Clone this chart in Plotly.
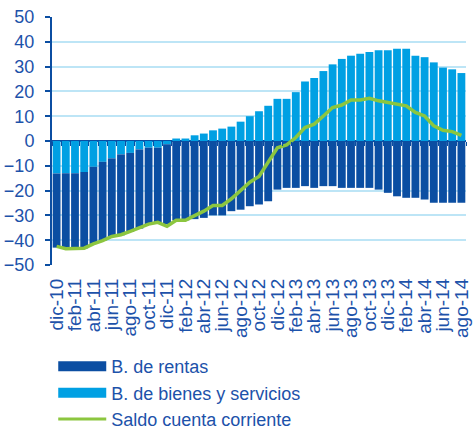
import plotly.graph_objects as go

months = ["dic-10", "ene-11", "feb-11", "mar-11", "abr-11", "may-11", "jun-11", "jul-11",
          "ago-11", "sep-11", "oct-11", "nov-11", "dic-11", "ene-12", "feb-12", "mar-12",
          "abr-12", "may-12", "jun-12", "jul-12", "ago-12", "sep-12", "oct-12", "nov-12",
          "dic-12", "ene-13", "feb-13", "mar-13", "abr-13", "may-13", "jun-13", "jul-13",
          "ago-13", "sep-13", "oct-13", "nov-13", "dic-13", "ene-14", "feb-14", "mar-14",
          "abr-14", "may-14", "jun-14", "jul-14", "ago-14"]

bienes_servicios = [-13.1, -13.0, -13.0, -12.5, -10.4, -8.4, -7.0, -5.4, -4.8, -3.4, -2.7, -2.7,
                    -1.3, 1.0, 1.0, 2.3, 3.0, 4.3, 5.0, 5.8, 7.8, 10.0, 12.0, 14.2, 17.0, 17.0,
                    19.7, 24.0, 25.4, 28.2, 30.9, 33.1, 34.4, 35.2, 35.9, 36.6, 36.6, 37.2, 37.2,
                    34.4, 33.8, 31.7, 29.6, 28.9, 27.4]

rentas = [-29.9, -30.5, -30.5, -30.8, -31.1, -31.8, -31.7, -32.6, -31.8, -31.9, -31.1, -30.3,
          -32.2, -32.0, -32.0, -31.5, -31.0, -30.0, -30.0, -28.3, -27.7, -26.3, -25.6, -24.3,
          -19.6, -18.9, -18.9, -18.2, -18.9, -18.2, -18.2, -18.9, -18.9, -18.9, -18.9, -19.6,
          -20.9, -22.3, -22.9, -22.9, -23.6, -24.9, -24.9, -24.9, -24.9]

saldo = [-42.5, -43.4, -43.3, -43.2, -41.5, -40.2, -38.5, -37.8, -36.4, -35.1, -33.5, -32.8,
         -34.4, -32.0, -32.0, -30.1, -28.3, -26.0, -26.0, -23.3, -20.0, -16.6, -14.3, -8.8,
         -2.7, -1.6, 1.4, 5.4, 6.8, 10.1, 13.5, 14.5, 16.5, 16.5, 17.2, 16.2, 15.5, 14.9,
         14.2, 11.5, 10.1, 6.1, 4.3, 3.8, 2.3]

y_ticks = [50, 40, 30, 20, 10, 0, -10, -20, -30, -40, -50]

C_DARK = "#0b4ea2"
C_LIGHT = "#00a0e3"
C_GREEN = "#8cc63f"
C_TEXT = "#1d52aa"
C_GRID = "#bde5f6"
FONT = "Liberation Sans, Arial, sans-serif"

fig = go.Figure()
fig.add_trace(go.Bar(x=months, y=bienes_servicios, name="B. de bienes y servicios",
                     marker=dict(color=C_LIGHT, line=dict(width=0)), showlegend=False))
fig.add_trace(go.Bar(x=months, y=rentas, name="B. de rentas",
                     marker=dict(color=C_DARK, line=dict(width=0)), showlegend=False))
fig.add_trace(go.Scatter(x=months, y=saldo, name="Saldo cuenta corriente", mode="lines",
                         line=dict(color=C_GREEN, width=3.5), showlegend=False))

# legend entries
fig.add_trace(go.Scatter(x=[None], y=[None], mode="lines", name="B. de rentas",
                         line=dict(color=C_DARK, width=11), legendgroup="a"))
fig.add_trace(go.Scatter(x=[None], y=[None], mode="lines", name="B. de bienes y servicios",
                         line=dict(color=C_LIGHT, width=11), legendgroup="b"))
fig.add_trace(go.Scatter(x=[None], y=[None], mode="lines", name="Saldo cuenta corriente",
                         line=dict(color=C_GREEN, width=3), legendgroup="c"))

fig.update_layout(
    width=473, height=600,
    margin=dict(l=52, r=7, t=17, b=335, autoexpand=False),
    paper_bgcolor="white", plot_bgcolor="white",
    barmode="relative", bargap=0.15,
    font=dict(family=FONT, color=C_TEXT),
    legend=dict(x=0.003, y=-0.335, xanchor="left", yanchor="top",
                font=dict(size=18, color=C_TEXT), itemwidth=48,
                tracegroupgap=0, bgcolor="rgba(0,0,0,0)"),
    xaxis=dict(type="category", tickangle=-90, dtick=2, tickfont=dict(size=19, color=C_TEXT),
               showgrid=False, showline=False, ticks="", zeroline=False, automargin=False,
               ticklabelstandoff=9),
    xaxis2=dict(type="linear", overlaying="x", anchor="free", position=0.5, range=[-0.5, 44.5],
                tick0=-0.5, dtick=1, ticks="outside", ticklen=4, tickcolor=C_DARK, tickwidth=1,
                showticklabels=False, showgrid=False, showline=False, zeroline=False,
                layer="above traces", automargin=False),
    yaxis=dict(range=[-50, 50], tickvals=y_ticks, tickfont=dict(size=18, color=C_TEXT),
               showgrid=True, gridcolor=C_GRID, gridwidth=1.5,
               zeroline=True, zerolinecolor=C_DARK, zerolinewidth=2,
               showline=True, linecolor=C_DARK, linewidth=2, automargin=False,
               ticks="outside", ticklen=5, tickcolor=C_DARK, tickwidth=2,
               ticklabelstandoff=7, ticklabeloverflow="allow"),
)
# invisible trace on xaxis2 so it renders
fig.add_trace(go.Scatter(x=[0], y=[0], xaxis="x2", mode="markers", marker=dict(opacity=0),
                         showlegend=False, hoverinfo="skip"))

fig.write_html("out.html", config={"displayModeBar": False},
               post_script="document.body.style.margin='0px';document.body.style.overflow='hidden';"
                           "document.documentElement.style.overflow='hidden';")
